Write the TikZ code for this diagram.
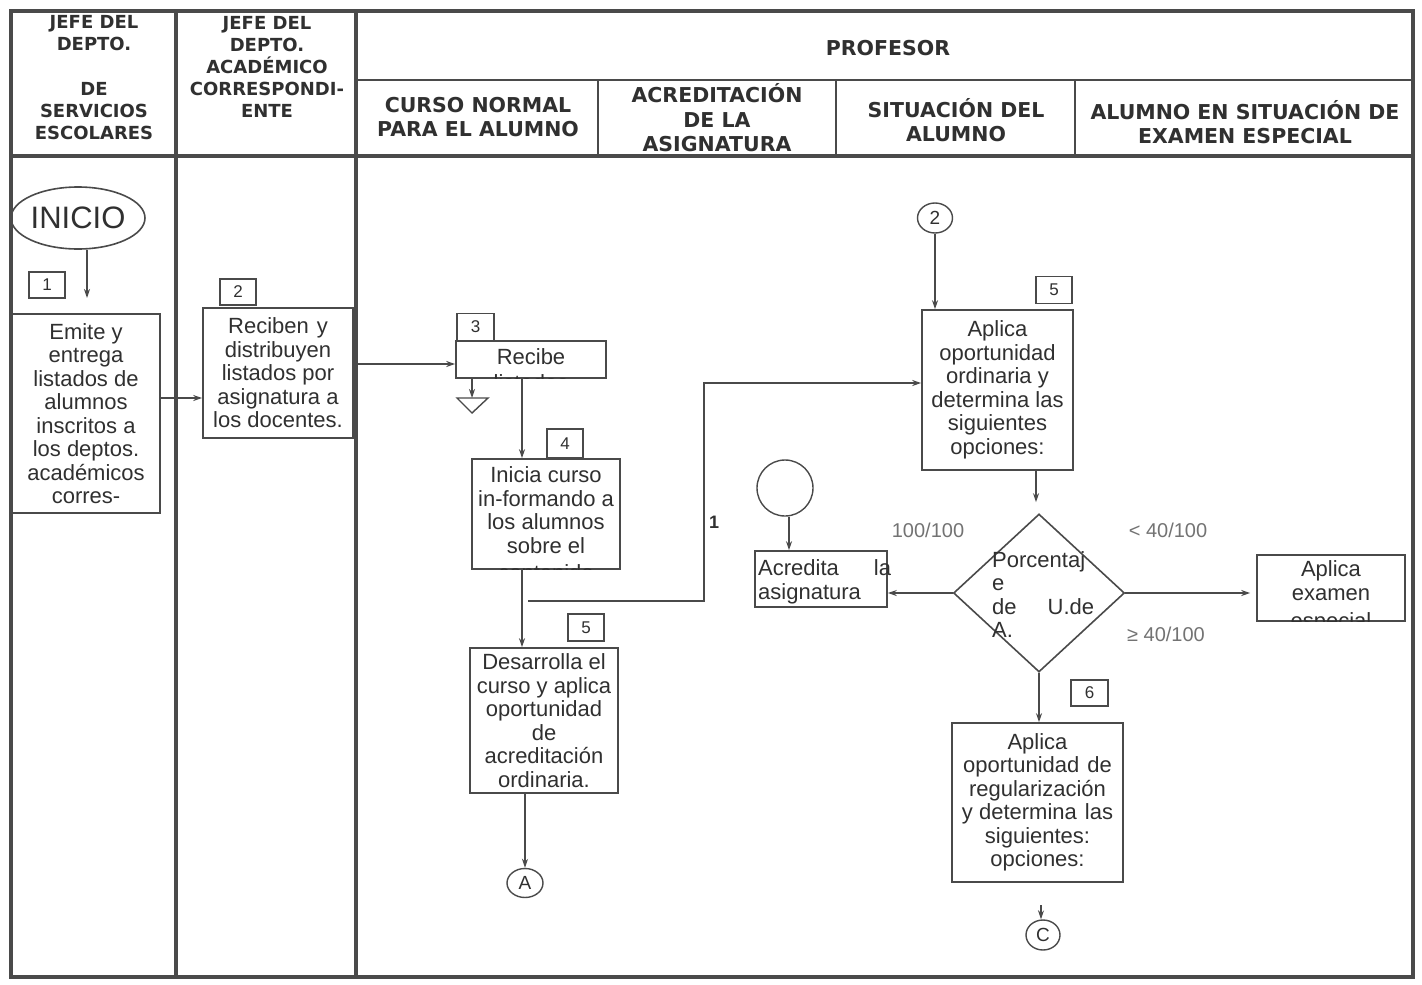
\documentclass[tikz,border=0pt]{standalone}
\usepackage{fontspec}
\setmainfont{Liberation Sans}
\newfontfamily\hdfont{DejaVu Sans}
\usetikzlibrary{arrows.meta,shapes.geometric,calc}
\newcommand{\bodyfs}{\fontsize{22}{23.5}\selectfont}
\definecolor{ln}{HTML}{4A4A4A}
\definecolor{tx}{HTML}{303030}
\begin{document}
\begin{tikzpicture}[x=1pt,y=-1pt,
  lane/.style={line width=3.2pt, draw=ln},
  midlane/.style={line width=2pt, draw=ln},
  hd/.style={font=\hdfont\bfseries\fontsize{18}{22}\selectfont, align=center, text=tx, inner sep=0pt},
  shd/.style={font=\hdfont\bfseries\fontsize{20.5}{24.5}\selectfont, align=center, text=tx, inner sep=0pt},
  box/.style={draw=ln, line width=1.6pt, rectangle, inner sep=0pt, align=center, font=\bodyfs, text=tx},
  frame/.style={draw=ln, line width=1.6pt, rectangle, inner sep=0pt},
  btext/.style={inner sep=0pt, align=center, font=\bodyfs, text=tx},
  num/.style={draw=ln, line width=1.4pt, rectangle, inner sep=0pt, minimum width=36pt, minimum height=26pt, font=\fontsize{17}{20}\selectfont, text=tx},
  conn/.style={line width=1.3pt, draw=ln, -{Stealth[length=9pt,width=6pt]}},
  lbl/.style={font=\fontsize{20}{22}\selectfont, text=black!55, inner sep=0pt},
  circ/.style={ellipse, draw=ln, line width=1.4pt, inner sep=0pt, font=\fontsize{19}{20}\selectfont, text=tx}
]
\useasboundingbox (0,0) rectangle (1422,985);
\fill[white] (0,0) rectangle (1422,985);

% ---------- swimlane grid ----------
\draw[lane] (11,11) rectangle (1413,977);
\draw[lane] (176,11) -- (176,977);
\draw[lane] (356,11) -- (356,977);
\draw[lane] (11,156) -- (1413,156);
\draw[midlane] (356,80) -- (1413,80);
\draw[midlane] (598,80) -- (598,156);
\draw[midlane] (836,80) -- (836,156);
\draw[midlane] (1075,80) -- (1075,156);

% ---------- headers ----------
\node[hd] (h1a) at (94,33) {JEFE DEL\\DEPTO.};
\node[hd] (h1b) at (94,111) {DE\\SERVICIOS\\ESCOLARES};
\node[hd] (h2) at (267,67) {JEFE DEL\\DEPTO.\\ACADÉMICO\\CORRESPONDI-\\ENTE};
\node[shd] (hp) at (888,48) {PROFESOR};
\node[shd] (hc1) at (478,117) {CURSO NORMAL\\PARA EL ALUMNO};
\node[shd] (hc2) at (717,118) {ACREDITACIÓN\\DE LA\\ASIGNATURA};
\node[shd] (hc3) at (956,120) {SITUACIÓN DEL\\ALUMNO};
\node[shd] (hc4) at (1245,122) {ALUMNO EN SITUACIÓN DE\\EXAMEN ESPECIAL};

% ---------- lane 1 ----------
\node[ellipse, draw=ln, line width=1.6pt, minimum width=130pt, minimum height=62pt, inner sep=0pt, font=\fontsize{31}{31}\selectfont, text=tx] (inicio) at (78,218) {INICIO};
\node[num] (n1) at (47,285) {1};
\node[box, minimum width=148pt, minimum height=199pt] (emite) at (86,413.5) {Emite y\\entrega\\listados de\\alumnos\\inscritos a\\los deptos.\\académicos\\corres-};
\coordinate (a1e) at (87,298);
\draw[conn] (inicio.south -| a1e) -- (a1e);

% ---------- lane 2 ----------
\node[num] (n2) at (238,292) {2};
\node[box, minimum width=150pt, minimum height=130pt] (reciben) at (278,373) {Reciben\hspace{8pt}y\\distribuyen\\listados por\\asignatura a\\los docentes.};
\coordinate (r2) at (0,398);
\draw[conn] (emite.east |- r2) -- (reciben.west |- r2);

% ---------- curso normal ----------
\node[num, minimum width=37pt, minimum height=27pt] (n3) at (475.5,327) {3};
\node[frame, minimum width=150pt, minimum height=37pt] (recibe) at (531,359.5) {};
\begin{scope}
\clip (recibe.south west) rectangle (recibe.north east);
\node[btext] (recibeT) at (531,369.5) {Recibe\\[3pt]listados};
\end{scope}
\coordinate (r3) at (0,364);
\draw[conn] (reciben.east |- r3) -- (recibe.west |- r3);

\coordinate (m1) at (472,380);
\coordinate (m2) at (472,398);
\draw[conn] (recibe.south -| m1) -- (m2);
\draw[ln, line width=1.4pt] (457,398) -- (488,398) -- (472,413) -- cycle;

\node[num, minimum height=29pt] (n4) at (565,443.5) {4};
\node[frame, minimum width=148pt, minimum height=110pt] (inicia) at (546,514) {};
\begin{scope}
\clip (inicia.south west) rectangle (inicia.north east);
\node[btext] (iniciaT) at (546,524) {Inicia curso\\in-formando a\\los alumnos\\sobre el\\[4pt]contenido};
\end{scope}
\coordinate (c4) at (522,0);
\draw[conn] (recibe.south -| c4) -- (inicia.north -| c4);

\node[num, minimum height=27pt] (n5b) at (586,627.5) {5};
\node[box, minimum width=148pt, minimum height=145pt] (desarrolla) at (544,720.5) {Desarrolla el\\curso y aplica\\oportunidad\\de\\acreditación\\ordinaria.};
\draw[conn] (inicia.south -| c4) -- (desarrolla.north -| c4);

\node[circ, minimum width=36pt, minimum height=29pt] (cA) at (525,883) {A};
\draw[conn] (desarrolla.south -| cA) -- (cA.north);

% ---------- connector 1 ----------
\coordinate (s1) at (528,601);
\coordinate (j1) at (704,383);
\node[font=\bfseries\fontsize{18}{20}\selectfont, text=tx, inner sep=0pt] (lab1) at (714,522) {1};

% ---------- situacion del alumno ----------
\node[circ, minimum width=35pt, minimum height=30pt] (c2) at (935,218) {2};
\node[num, minimum height=27pt] (n5a) at (1054,290) {5};
\node[box, minimum width=151pt, minimum height=160pt] (aplica) at (997.5,390) {Aplica\\oportunidad\\ordinaria y\\determina las\\siguientes\\opciones:};
\draw[conn] (c2.south) -- (aplica.north -| c2);
\draw[conn] (s1) -| (j1) -- (aplica.west |- j1);

\node[diamond, draw=ln, line width=1.6pt, minimum width=171pt, minimum height=158pt, inner sep=0pt] (diam) at (1039,593) {};
\node[anchor=west, align=left, inner sep=0pt, font=\bodyfs, text=tx] (diamT) at (992,594.5) {Porcentaj\\e\\de\hspace{31pt}U.de\\A.};
\coordinate (c7) at (1036,0);
\draw[conn, shorten >=11pt] (aplica.south -| c7) -- (diam.north -| c7);

\node[frame, minimum width=132pt, minimum height=56pt] (acredita) at (821,579) {};
\node[anchor=west, align=left, inner sep=0pt, font=\bodyfs, text=tx] (acreditaT) at (758,582) {Acredita\hspace{35pt}la\\asignatura};
\draw[conn] (diam.west) -- (acredita.east |- diam.west);

\node[circle, draw=ln, line width=1.4pt, minimum size=56pt, inner sep=0pt] (circ0) at (785,488) {};
\coordinate (c8) at (789,0);
\draw[conn] (circ0.south -| c8) -- (acredita.north -| c8);

\node[lbl] (l100) at (928,530) {100/100};
\node[lbl] (l40a) at (1168,530) {< 40/100};
\node[lbl] (l40b) at (1166,634) {≥ 40/100};

% ---------- examen especial ----------
\node[frame, minimum width=148pt, minimum height=66pt] (examen) at (1331,588) {};
\begin{scope}
\clip (examen.south west) rectangle (examen.north east);
\node[btext] (examenT) at (1331,597) {Aplica\\examen\\[5pt]especial};
\end{scope}
\draw[conn, shorten >=6pt] (diam.east) -- (examen.west |- diam.east);

% ---------- regularizacion ----------
\node[num, minimum width=37pt] (n6) at (1089.5,693) {6};
\node[box, minimum width=171pt, minimum height=159pt] (regul) at (1037.5,802.5) {Aplica\\oportunidad\hspace{8pt}de\\regularización\\y determina\hspace{8pt}las\\siguientes:\\opciones:};
\draw[conn] (diam.south) -- (regul.north -| diam.south);

\node[circ, minimum width=34pt, minimum height=30pt] (cC) at (1043,935) {C};
\coordinate (c9) at (1041,905);
\draw[conn] (c9) -- (cC.north -| c9);
\end{tikzpicture}
\end{document}
